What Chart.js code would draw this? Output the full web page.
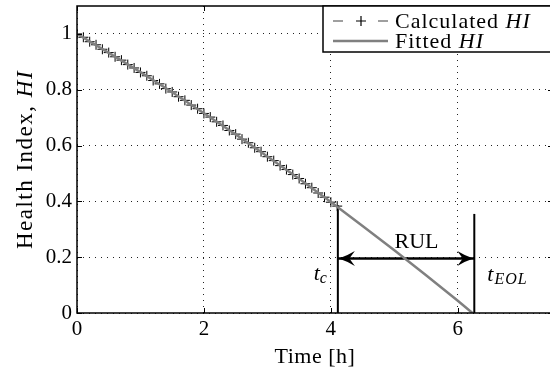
<!DOCTYPE html>
<html><head><meta charset="utf-8">
<style>
html,body{margin:0;padding:0;background:#fff;overflow:hidden;width:550px;height:371px}
#wrap{width:560px;height:371px}
</style>
<script src="https://cdn.jsdelivr.net/npm/chart.js@4/dist/chart.umd.min.js"></script>
</head><body><div id="wrap"><canvas id="c" width="560" height="371"></canvas></div>
<script>
// ---- data ----
const calcTime = [0,0.1,0.2,0.3,0.4,0.5,0.6,0.7,0.8,0.9,1.0,1.1,1.2,1.3,1.4,1.5,1.6,1.7,1.8,1.9,2.0,2.1,2.2,2.3,2.4,2.5,2.6,2.7,2.8,2.9,3.0,3.1,3.2,3.3,3.4,3.5,3.6,3.7,3.8,3.9,4.0,4.1];
const calcHI = [1.000,0.988,0.972,0.961,0.945,0.933,0.918,0.906,0.890,0.878,0.862,0.850,0.833,0.821,0.804,0.792,0.775,0.762,0.745,0.732,0.715,0.702,0.685,0.672,0.654,0.641,0.623,0.610,0.592,0.578,0.560,0.546,0.528,0.514,0.496,0.482,0.463,0.449,0.430,0.415,0.397,0.383];
const fitTime = [0,0.5,1,1.5,2,2.5,3,3.5,4,4.5,5,5.5,6,6.23];
const fitHI = [1.000,0.932,0.863,0.791,0.716,0.640,0.561,0.481,0.398,0.312,0.225,0.135,0.044,0.000];
const xTicks = [0,2,4,6];
const yTicks = [0,0.2,0.4,0.6,0.8,1];
const xRange = [0,7.5];
const yRange = [0,1.1];
const tC = 4.11, tEOL = 6.26;
const tcTop = 0.386, eolTop = 0.355, rulLevel = 0.195;
const rulLabelPos = [5.35,0.232];
const tcLabelY = 0.118, eolLabelY = 0.114;

const SERIF = '"Liberation Serif", "DejaVu Serif", serif';
const GRAY = '#808080';

function pts(xs, ys){ return xs.map((x,i)=>({x:x,y:ys[i]})); }

function rich(ctx, parts, x, y, align, ls){
  ctx.letterSpacing = (ls||0) + 'px';
  let w = 0;
  parts.forEach(p=>{ ctx.font = p.f; w += ctx.measureText(p.t).width; });
  let cx = align==='center' ? x - w/2 : (align==='right' ? x - w : x);
  ctx.textAlign = 'left';
  parts.forEach(p=>{ ctx.font = p.f; ctx.fillText(p.t, cx, y + (p.dy||0)); cx += ctx.measureText(p.t).width; });
  ctx.letterSpacing = '0px';
}

function arrowHead(ctx, tipX, y, dir){
  const L = 16, W = 7.5, N = 10.5;
  ctx.beginPath();
  ctx.moveTo(tipX, y);
  ctx.quadraticCurveTo(tipX - dir*L*0.5, y - W*0.35, tipX - dir*L, y - W);
  ctx.lineTo(tipX - dir*N, y);
  ctx.lineTo(tipX - dir*L, y + W);
  ctx.quadraticCurveTo(tipX - dir*L*0.5, y + W*0.35, tipX, y);
  ctx.closePath();
  ctx.fill();
}

const decor = {
  id:'decor',
  beforeDraw(chart){
    const ctx = chart.ctx;
    ctx.save(); ctx.fillStyle='#fff'; ctx.fillRect(0,0,chart.width,chart.height); ctx.restore();
  },
  afterDatasetsDraw(chart){
    const ctx = chart.ctx, a = chart.chartArea, xs = chart.scales.x, ys = chart.scales.y;
    ctx.save();
    ctx.fillStyle = '#000'; ctx.strokeStyle = '#000';
    const ry = ys.getPixelForValue(rulLevel);
    arrowHead(ctx, xs.getPixelForValue(tC)+1, ry, -1);
    arrowHead(ctx, xs.getPixelForValue(tEOL)-1, ry, 1);
    ctx.lineWidth = 1;
    ctx.beginPath();
    xTicks.forEach(v=>{ const px = Math.round(xs.getPixelForValue(v))+0.5;
      ctx.moveTo(px,a.bottom); ctx.lineTo(px,a.bottom-5); ctx.moveTo(px,a.top); ctx.lineTo(px,a.top+5); });
    yTicks.forEach(v=>{ const py = Math.round(ys.getPixelForValue(v))+0.5;
      ctx.moveTo(a.left,py); ctx.lineTo(a.left+5,py); ctx.moveTo(a.right,py); ctx.lineTo(a.right-5,py); });
    ctx.stroke();
    ctx.lineWidth = 1.5;
    ctx.strokeRect(a.left, a.top, a.right-a.left, a.bottom-a.top);
    ctx.textBaseline = 'alphabetic';
    rich(ctx,[{t:'RUL',f:'22px '+SERIF}], xs.getPixelForValue(rulLabelPos[0]), ys.getPixelForValue(rulLabelPos[1]), 'center');
    rich(ctx,[{t:'t',f:'italic 22px '+SERIF},{t:'c',f:'italic 16px '+SERIF,dy:3}], xs.getPixelForValue(tC)-11, ys.getPixelForValue(tcLabelY), 'right');
    rich(ctx,[{t:'t',f:'italic 22px '+SERIF},{t:'EOL',f:'italic 16px '+SERIF,dy:3}], xs.getPixelForValue(tEOL)+13, ys.getPixelForValue(eolLabelY), 'left', 1);
    // legend
    const lx = 323, lt = a.top, lb = 52;
    ctx.fillStyle = '#fff';
    ctx.fillRect(lx, lt, a.right-lx, lb-lt);
    ctx.strokeRect(lx, lt, a.right-lx, lb-lt);
    const r1 = 21, r2 = 41;
    ctx.strokeStyle = GRAY; ctx.lineWidth = 1.3;
    ctx.beginPath(); ctx.moveTo(333,r1); ctx.lineTo(343,r1); ctx.moveTo(378,r1); ctx.lineTo(388,r1); ctx.stroke();
    ctx.strokeStyle = '#000'; ctx.lineWidth = 1.2;
    ctx.beginPath(); ctx.moveTo(356,r1); ctx.lineTo(366,r1); ctx.moveTo(361,r1-5); ctx.lineTo(361,r1+5); ctx.stroke();
    ctx.strokeStyle = GRAY; ctx.lineWidth = 2.5;
    ctx.beginPath(); ctx.moveTo(333,r2); ctx.lineTo(388,r2); ctx.stroke();
    ctx.fillStyle = '#000'; ctx.textBaseline = 'middle';
    rich(ctx,[{t:'Calculated ',f:'22px '+SERIF},{t:'HI',f:'italic 22px '+SERIF}], 395, r1+1, 'left', 1);
    rich(ctx,[{t:'Fitted ',f:'22px '+SERIF},{t:'HI',f:'italic 22px '+SERIF}], 395, r2+1, 'left', 1);
    ctx.textBaseline = 'alphabetic';
    rich(ctx,[{t:'Time [h]',f:'22px '+SERIF}], 315, 363, 'center', 0.5);
    ctx.translate(32, (a.top+a.bottom)/2);
    ctx.rotate(-Math.PI/2);
    rich(ctx,[{t:'Health Index, ',f:'23px '+SERIF},{t:'HI',f:'italic 23px '+SERIF}], 0, 0, 'center', 1.5);
    ctx.restore();
  }
};

function zeroPad(s){ s.paddingTop = 0; s.paddingBottom = 0; s.paddingLeft = 0; s.paddingRight = 0; }

new Chart(document.getElementById('c'), {
  type:'scatter',
  data:{ datasets:[
    { label:'Fitted HI', data:pts(fitTime,fitHI), showLine:true, borderColor:GRAY, borderWidth:2.5, pointRadius:0, order:0 },
    { label:'Calculated HI', data:pts(calcTime,calcHI), showLine:true, borderColor:GRAY, borderWidth:1.2, borderDash:[5,4],
      pointStyle:'cross', pointRadius:5, pointBorderColor:'#000', pointBackgroundColor:'#000', pointBorderWidth:1, order:1 },
    { label:'tc', data:pts([tC,tC],[0,tcTop]), showLine:true, borderColor:'#000', borderWidth:2, pointRadius:0, order:2 },
    { label:'tEOL', data:pts([tEOL,tEOL],[0,eolTop]), showLine:true, borderColor:'#000', borderWidth:2, pointRadius:0, order:2 },
    { label:'RUL', data:pts([tC,tEOL],[rulLevel,rulLevel]), showLine:true, borderColor:'#000', borderWidth:2.5, pointRadius:0, order:2 }
  ]},
  options:{
    responsive:false, animation:false, devicePixelRatio:1,
    layout:{ padding:{ top:6, right:7, left:0, bottom:0 } },
    plugins:{ legend:{display:false}, tooltip:{enabled:false} },
    elements:{ line:{ tension:0 } },
    scales:{
      x:{ type:'linear', min:xRange[0], max:xRange[1],
        afterBuildTicks(s){ s.ticks = xTicks.map(v=>({value:v})); },
        afterFit(s){ s.height = 58; zeroPad(s); },
        grid:{ color:'#222', lineWidth:1, drawTicks:false },
        border:{ display:false, dash:[1,5] },
        ticks:{ padding:4, color:'#000', font:{ family:SERIF, size:21 }, maxRotation:0, callback:v=>String(v) } },
      y:{ type:'linear', min:yRange[0], max:yRange[1],
        afterBuildTicks(s){ s.ticks = yTicks.map(v=>({value:v})); },
        afterFit(s){ s.width = 77; zeroPad(s); },
        grid:{ color:'#222', lineWidth:1, drawTicks:false },
        border:{ display:false, dash:[1,5] },
        ticks:{ padding:5, color:'#000', font:{ family:SERIF, size:21 }, callback:v=>String(v) } }
    }
  },
  plugins:[decor]
});
</script>
</body></html>
